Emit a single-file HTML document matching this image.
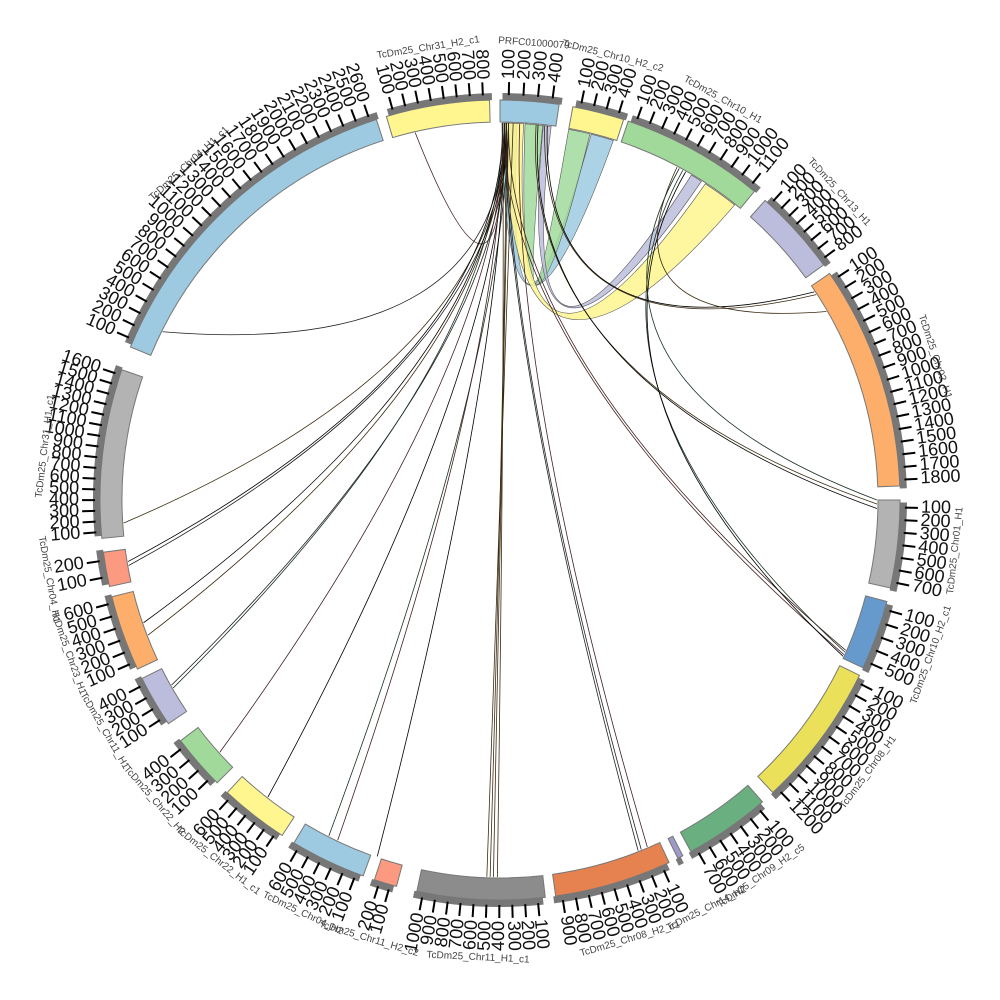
<!DOCTYPE html>
<html><head><meta charset="utf-8">
<style>
html,body{margin:0;padding:0;background:#fff;}
svg{display:block;}
.seg text{font-family:"Liberation Sans",sans-serif;font-size:18px;fill:#111;}
.nm{font-family:"Liberation Sans",sans-serif;font-size:10px;fill:#444;}
</style></head><body>
<svg id="s" width="1000" height="1000" viewBox="0 0 1000 1000" xmlns="http://www.w3.org/2000/svg">
<g id="links"></g>
<g id="bands"></g>
<g class="seg" data-s="0" data-e="8.5" data-c="#9ecae1" data-n="PRFC01000079"><text>100</text><text>200</text><text>300</text><text>400</text></g>
<g class="seg" data-s="10.5" data-e="18" data-c="#fff68f" data-n="TcDm25_Chr10_H2_c2"><text>100</text><text>200</text><text>300</text><text>400</text></g>
<g class="seg" data-s="18.7" data-e="39.5" data-c="#a1d99b" data-n="TcDm25_Chr10_H1"><text>100</text><text>200</text><text>300</text><text>400</text><text>500</text><text>600</text><text>700</text><text>800</text><text>900</text><text>1000</text><text>1100</text></g>
<g class="seg" data-s="41.5" data-e="54" data-c="#bcbddc" data-n="TcDm25_Chr13_H1"><text>100</text><text>200</text><text>300</text><text>400</text><text>500</text><text>600</text><text>700</text><text>800</text></g>
<g class="seg" data-s="55.5" data-e="88" data-c="#fdae6b" data-n="TcDm25_Chr02_H1"><text>100</text><text>200</text><text>300</text><text>400</text><text>500</text><text>600</text><text>700</text><text>800</text><text>900</text><text>1000</text><text>1100</text><text>1200</text><text>1300</text><text>1400</text><text>1500</text><text>1600</text><text>1700</text><text>1800</text></g>
<g class="seg" data-s="90" data-e="102.7" data-c="#b3b3b3" data-n="TcDm25_Chr01_H1"><text>100</text><text>200</text><text>300</text><text>400</text><text>500</text><text>600</text><text>700</text></g>
<g class="seg" data-s="104.7" data-e="114.8" data-c="#6699cc" data-n="TcDm25_Chr10_H2_c1"><text>100</text><text>200</text><text>300</text><text>400</text><text>500</text></g>
<g class="seg" data-s="116" data-e="137" data-c="#ebe05a" data-n="TcDm25_Chr08_H1"><text>100</text><text>200</text><text>300</text><text>400</text><text>500</text><text>600</text><text>700</text><text>800</text><text>900</text><text>1000</text><text>1100</text><text>1200</text></g>
<g class="seg" data-s="139" data-e="151.5" data-c="#6aaf7f" data-n="TcDm25_Chr09_H2_c5"><text>100</text><text>200</text><text>300</text><text>400</text><text>500</text><text>600</text><text>700</text></g>
<g class="seg" data-s="152.8" data-e="153.6" data-c="#9e9ac8" data-n="TcDm25_Chr14_H2"></g>
<g class="seg" data-s="155" data-e="172" data-c="#e5824f" data-n="TcDm25_Chr08_H2_c1"><text>100</text><text>200</text><text>300</text><text>400</text><text>500</text><text>600</text><text>700</text><text>800</text><text>900</text></g>
<g class="seg" data-s="173.5" data-e="192" data-c="#8c8c8c" data-n="TcDm25_Chr11_H1_c1"><text>100</text><text>200</text><text>300</text><text>400</text><text>500</text><text>600</text><text>700</text><text>800</text><text>900</text><text>1000</text></g>
<g class="seg" data-s="195" data-e="198.3" data-c="#fb9a80" data-n="TcDm25_Chr11_H2_c2"><text>100</text><text>200</text></g>
<g class="seg" data-s="200" data-e="211" data-c="#9ecae1" data-n="TcDm25_Chr04_H2"><text>100</text><text>200</text><text>300</text><text>400</text><text>500</text><text>600</text></g>
<g class="seg" data-s="213" data-e="223" data-c="#fff68f" data-n="TcDm25_Chr22_H1_c1"><text>100</text><text>200</text><text>300</text><text>400</text><text>500</text><text>600</text></g>
<g class="seg" data-s="225" data-e="233" data-c="#a1d99b" data-n="TcDm25_Chr22_H2"><text>100</text><text>200</text><text>300</text><text>400</text></g>
<g class="seg" data-s="236" data-e="243.5" data-c="#bcbddc" data-n="TcDm25_Chr11_H1"><text>100</text><text>200</text><text>300</text><text>400</text></g>
<g class="seg" data-s="245" data-e="256" data-c="#fdae6b" data-n="TcDm25_Chr23_H1"><text>100</text><text>200</text><text>300</text><text>400</text><text>500</text><text>600</text></g>
<g class="seg" data-s="257.5" data-e="262.5" data-c="#fb9a80" data-n="TcDm25_Chr04_H1"><text>100</text><text>200</text></g>
<g class="seg" data-s="264.5" data-e="289" data-c="#b3b3b3" data-n="TcDm25_Chr31_H1_c1"><text>100</text><text>200</text><text>300</text><text>400</text><text>500</text><text>600</text><text>700</text><text>800</text><text>900</text><text>1000</text><text>1100</text><text>1200</text><text>1300</text><text>1400</text><text>1500</text><text>1600</text></g>
<g class="seg" data-s="292.5" data-e="342" data-c="#9ecae1" data-n="TcDm25_Chr04_H1_c1"><text>100</text><text>200</text><text>300</text><text>400</text><text>500</text><text>600</text><text>700</text><text>800</text><text>900</text><text>1000</text><text>1100</text><text>1200</text><text>1300</text><text>1400</text><text>1500</text><text>1600</text><text>1700</text><text>1800</text><text>1900</text><text>2000</text><text>2100</text><text>2200</text><text>2300</text><text>2400</text><text>2500</text><text>2600</text></g>
<g class="seg" data-s="343.5" data-e="358.5" data-c="#fff68f" data-n="TcDm25_Chr31_H2_c1"><text>100</text><text>200</text><text>300</text><text>400</text><text>500</text><text>600</text><text>700</text><text>800</text></g>
</svg>
<script>
var NS="http://www.w3.org/2000/svg",C=500;
function P(a,r){a*=Math.PI/180;return [C+r*Math.sin(a),C-r*Math.cos(a)];}
function f(p){return p[0].toFixed(2)+","+p[1].toFixed(2);}
function el(t,at,par){var e=document.createElementNS(NS,t);for(var k in at)e.setAttribute(k,at[k]);par.appendChild(e);return e;}
function band(a1,a2,r1,r2){var L=(a2-a1)>180?1:0;return "M"+f(P(a1,r2))+"A"+r2+","+r2+" 0 "+L+" 1 "+f(P(a2,r2))+"L"+f(P(a2,r1))+"A"+r1+","+r1+" 0 "+L+" 0 "+f(P(a1,r1))+"Z";}
var bands=document.getElementById("bands"),svg=document.getElementById("s");
document.querySelectorAll(".seg").forEach(function(g){
 var s=+g.dataset.s,e=+g.dataset.e,c=g.dataset.c,n=g.dataset.n;
 el("path",{d:band(s+0.35,e+0.35,400,407),fill:"#777"},bands);
 el("path",{d:band(s,e,378,400),fill:c,stroke:"#777","stroke-width":1},bands);
 var ts=g.querySelectorAll("text"),k=ts.length;
 ts.forEach(function(t,i){
  var a=s+(e-s)*(i+0.6)/(k+0.1);
  var p1=P(a,405),p2=P(a,418);
  el("line",{x1:p1[0],y1:p1[1],x2:p2[0],y2:p2[1],stroke:"#000","stroke-width":2},bands);
  var q=P(a,421),th;
  if(a<180){th=a-90;t.setAttribute("text-anchor","start");}else{th=a+90;t.setAttribute("text-anchor","end");}
  t.setAttribute("dominant-baseline","middle");
  t.setAttribute("transform","translate("+q[0].toFixed(2)+","+q[1].toFixed(2)+") rotate("+th.toFixed(2)+")");
 });
 var m=(s+e)/2,q=P(m,458),th=(m>90&&m<270)?m-180:m;
 var tx=document.createElementNS(NS,"text");tx.textContent=n;
 tx.setAttribute("class","nm");tx.setAttribute("text-anchor","middle");tx.setAttribute("dominant-baseline","middle");
 tx.setAttribute("transform","translate("+q[0].toFixed(2)+","+q[1].toFixed(2)+") rotate("+th.toFixed(2)+")");
 svg.appendChild(tx);
});
var links=document.getElementById("links"),R=377;
function rib(a1,a2,b1,b2,c,cp){
 var d="M"+f(P(a1,R))+"A"+R+","+R+" 0 0 1 "+f(P(a2,R))+"Q"+f(cp)+" "+f(P(b1,R))+"A"+R+","+R+" 0 0 1 "+f(P(b2,R))+"Q"+f(cp)+" "+f(P(a1,R))+"Z";
 el("path",{d:d,fill:c,"fill-opacity":0.85,stroke:"#555","stroke-width":0.6},links);
}
rib(0.3,2.6,14,17.5,"#9ecae1",[505,440]);
rib(3.8,6.5,10.5,13.8,"#a1d99b",[515,440]);
rib(0.8,3.6,33,38.5,"#fff68f",[505,470]);
rib(6.6,7.8,30.5,32.3,"#bcbddc",[510,460]);
var cols=["#000","#222","#3a2a10","#1a3020","#402020"];
function ln(a,b,cp,w){var p=P(a,R),q=P(b,R);el("path",{d:"M"+f(p)+"Q"+f(cp)+" "+f(q),fill:"none",stroke:cols[Math.floor(Math.random()*5)],"stroke-width":w||0.8},links);}
var T=[347,296.5,266.5,260,260.6,251,249,240.6,240.1,228,218,207,205.5,199,181.5,181,180.4,158.5,158,113.5,114.2];
T.forEach(function(b,i){ln(0.4+(i%4)*0.3,b,[505,360]);});
ln(5.5,90.6,[520,380]);ln(5.8,91.3,[520,380]);
ln(6.8,57,[540,360]);ln(7.2,56.5,[540,360]);
ln(29,113.8,[560,390]);ln(29.5,114.5,[560,390]);
ln(28,60,[600,330]);ln(28.4,90,[560,380]);
ln(3,157,[510,380]);ln(2,182,[505,380]);
</script>
</body></html>
